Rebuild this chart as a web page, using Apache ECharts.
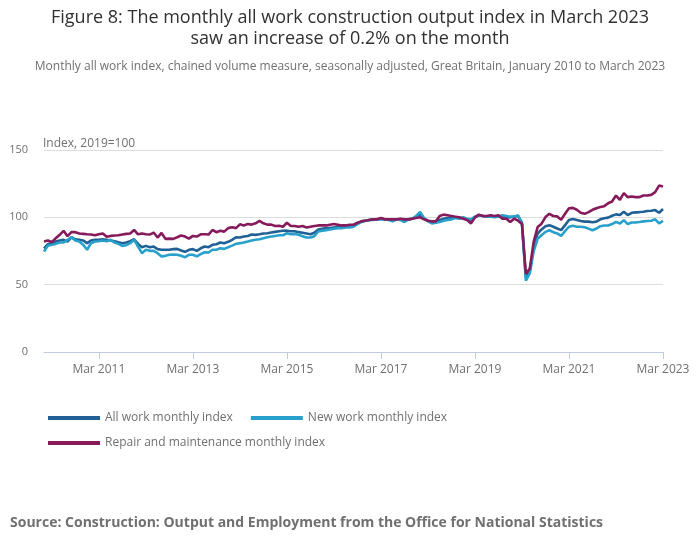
<!DOCTYPE html>
<html>
<head>
<meta charset="utf-8">
<script src="https://cdn.jsdelivr.net/npm/echarts@6/dist/echarts.min.js"></script>
<style>
html,body{margin:0;padding:0;background:#fff;}
#main{width:700px;height:549px;}
</style>
</head>
<body>
<div id="main"></div>
<script>
// Jan 2010 .. Mar 2023, 159 months
var firstYear = 2010;
var monthCount = 159;
var monthNames = ['Jan','Feb','Mar','Apr','May','Jun','Jul','Aug','Sep','Oct','Nov','Dec'];

// All work monthly index
var allWork = [
	77, 80, 80.8, 82, 82.8, 83.3, 82, 85.2, 83.7, 83.3, 82.8, 80.8,
	82.8, 83.3, 83.3, 83.7, 83.3, 82.8, 82.3, 81.5, 80.8, 81.3, 82.3, 83.7,
	80.3, 77.8, 78.8, 77.8, 78.3, 76.4, 75.9, 75.9, 75.9, 76.4, 76.6, 75.4,
	74.4, 75.9, 76.4, 75.1, 77, 78.3, 77.8, 79.6, 80, 81.3, 80.8, 81.8,
	83.3, 85.2, 85, 85.7, 86.2, 87.2, 87, 87.4, 88, 88.2, 88.7, 89.2,
	89.7, 90, 90.1, 89.7, 89.7, 89, 88.5, 88, 87.5, 88.5, 91, 91.5,
	92, 92, 92.5, 93, 93, 93, 93, 93.5, 95.5, 97, 97.5, 98,
	98.5, 98.5, 99, 98.5, 98.5, 98, 98.5, 98.5, 98, 98.5, 99, 100.5,
	102, 99, 97.5, 96.5, 96.5, 98, 99, 99.5, 99.5, 100, 99.5, 99.5,
	98.5, 97.5, 100, 101.5, 101, 100.5, 101, 100.5, 101, 100.5, 100, 100,
	100.5, 101, 96, 55, 60, 78, 88, 91, 93.4, 94.2, 93, 91.7,
	90.5, 94.2, 98, 98.7, 98, 97.3, 96.8, 96.8, 96.3, 96.8, 98.5, 99.3,
	99.8, 101.2, 102.2, 101.7, 104.2, 101.7, 103.4, 103.7, 103.9, 104.2, 104.7, 104.9,
	105.4, 103.4, 106.2
];
// New work monthly index
var newWork = [
	74.6, 79, 79.6, 80.3, 81.3, 81.3, 83.3, 85.2, 82.8, 82, 79.6, 75.9,
	80.8, 82, 82.3, 82.8, 82.3, 83.3, 81.3, 80.3, 78.8, 79.3, 80.8, 83.3,
	78.3, 73.4, 75.9, 75.1, 75.1, 73.4, 71, 71.4, 72.2, 72.4, 72.2, 71.4,
	70.4, 72.2, 72.2, 71, 72.7, 74.1, 73.9, 75.9, 75.9, 77.1, 76.6, 77.8,
	79, 80.3, 80.8, 81.3, 82, 82.8, 83.3, 83.7, 84.5, 85.2, 85.7, 86.2,
	86.7, 86.7, 88.2, 87.4, 87.7, 87, 86, 85, 85, 86, 89.5, 90,
	90.5, 91, 91.5, 92, 92, 92.5, 92.5, 93, 95, 96.5, 97.5, 98,
	98, 98.5, 98.5, 98.5, 98, 97, 98.5, 98, 96.5, 98.5, 99, 101,
	104, 99.5, 97, 95.5, 96, 96.5, 97.5, 98, 98.5, 99.5, 99, 100,
	99, 98.5, 100.5, 101.5, 101, 100.5, 100.5, 100, 100.5, 101.5, 101, 100.5,
	100.5, 101.5, 95, 53, 58.5, 75, 84, 86.7, 89.2, 90.4, 89, 88,
	86.3, 89.7, 93, 93.7, 93, 93, 92.6, 91.6, 90.4, 91.7, 93.4, 93.9,
	93.9, 95, 96.6, 95.4, 97.9, 95, 96.2, 96.2, 96.5, 97, 97.3, 97.5,
	98.5, 95.5, 97.3
];
// Repair and maintenance monthly index
var repairWork = [
	82, 82.8, 81.5, 84.5, 87, 90, 86, 89, 89, 88, 87.7, 87.4,
	87.2, 86.7, 87.4, 88, 85.5, 86.2, 86.5, 86.7, 87.2, 87.7, 88, 90.6,
	87.4, 88, 87.4, 87.2, 88.7, 85, 88.4, 84, 84.2, 84, 85.2, 86.5,
	85.7, 84.2, 86.2, 85.7, 87.4, 87.4, 87.2, 90.6, 89, 90, 89.4, 92,
	92.6, 92, 94.8, 94, 95, 94.6, 95.6, 97.3, 95.6, 94.6, 94.6, 93.6,
	93.8, 93, 96, 93.6, 93.6, 93, 93.5, 92.5, 93, 93.5, 94, 94,
	94, 94.5, 95, 94.5, 94, 94, 94.5, 94.5, 96, 97, 97.5, 98,
	98.5, 98.5, 99.5, 98.5, 98.5, 98.5, 98.5, 99, 98.5, 98.5, 99, 99.5,
	100, 98.5, 97.5, 97, 97, 101, 102, 101.5, 101, 100.5, 100, 99,
	98, 95.5, 100, 102, 101, 101, 101.5, 101, 101.5, 99, 99, 96.5,
	99, 97.5, 95, 58, 62, 82, 92.8, 95.3, 100.2, 102.6, 101, 100.7,
	98.2, 102.6, 106.8, 107, 105.6, 103.4, 102.6, 103.9, 105.6, 106.8, 107.6, 108.3,
	110.5, 111.8, 116.2, 113, 118, 115, 115.5, 115, 115, 116.2, 116.2, 116.7,
	118.7, 123.6, 122.9
];

var months = [];
for (var i = 0; i < monthCount; i++) {
	months.push(monthNames[i % 12] + ' ' + (firstYear + Math.floor(i / 12)));
}
// label every other March, starting Mar 2011
function showTick(idx) {
	return idx % 24 === 14;
}

var grey = '#707071';
var myChart = echarts.init(document.getElementById('main'));
var option = {
	backgroundColor: '#fff',
	animation: false,
	textStyle: { fontFamily: 'Open Sans' },
	title: [
		{
			text: 'Figure 8: The monthly all work construction output index in March 2023\nsaw an increase of 0.2% on the month',
			left: 'center',
			top: 7,
			padding: 0,
			textStyle: { fontSize: 18, fontWeight: 'normal', color: '#323132', lineHeight: 21, fontFamily: 'Open Sans' },
			subtext: 'Monthly all work index, chained volume measure, seasonally adjusted, Great Britain, January 2010 to March 2023',
			subtextStyle: { fontSize: 12, color: grey, fontFamily: 'Open Sans' },
			itemGap: 12
		},
		{
			text: 'Source: Construction: Output and Employment from the Office for National Statistics',
			left: 10,
			top: 516,
			padding: 0,
			textStyle: { fontSize: 14, fontWeight: 'bold', color: grey, fontFamily: 'Open Sans' }
		}
	],
	graphic: [
		{
			type: 'text',
			left: 43,
			top: 138,
			style: { text: 'Index, 2019=100', fontSize: 12, fill: grey, fontFamily: 'Open Sans' }
		}
	],
	legend: [
		{
			data: ['All work monthly index', 'New work monthly index'],
			left: 48,
			top: 412,
			padding: 0,
			icon: 'rect',
			itemWidth: 52,
			itemHeight: 4,
			itemGap: 18,
			textStyle: { fontSize: 12, color: grey, fontFamily: 'Open Sans' }
		},
		{
			data: ['Repair and maintenance monthly index'],
			left: 48,
			top: 437,
			padding: 0,
			icon: 'rect',
			itemWidth: 52,
			itemHeight: 4,
			textStyle: { fontSize: 12, color: grey, fontFamily: 'Open Sans' }
		}
	],
	grid: { left: 44, right: 37, top: 150, bottom: 197, containLabel: false },
	xAxis: {
		type: 'category',
		data: months,
		boundaryGap: false,
		axisLine: { lineStyle: { color: '#bfcbe0', width: 1 } },
		axisTick: { show: true, interval: showTick, length: 7, lineStyle: { color: '#bfcbe0' } },
		axisLabel: {
			interval: showTick,
			color: grey,
			fontSize: 12,
			margin: 12,
			fontFamily: 'Open Sans'
		},
		splitLine: { show: false }
	},
	yAxis: {
		type: 'value',
		min: 0,
		max: 150,
		interval: 50,
		axisLine: { show: false },
		axisTick: { show: false },
		axisLabel: { color: grey, fontSize: 11, margin: 16, fontFamily: 'Open Sans' },
		splitLine: { lineStyle: { color: '#dddddd', width: 1 } }
	},
	series: [
		{
			name: 'All work monthly index',
			type: 'line',
			data: allWork,
			showSymbol: false,
			color: '#206095',
			lineStyle: { width: 2.6, color: '#206095' }
		},
		{
			name: 'New work monthly index',
			type: 'line',
			data: newWork,
			showSymbol: false,
			color: '#27a0cc',
			lineStyle: { width: 2.6, color: '#27a0cc' }
		},
		{
			name: 'Repair and maintenance monthly index',
			type: 'line',
			data: repairWork,
			showSymbol: false,
			color: '#871a5b',
			lineStyle: { width: 2.6, color: '#871a5b' }
		}
	]
};
myChart.setOption(option);
</script>
</body>
</html>
